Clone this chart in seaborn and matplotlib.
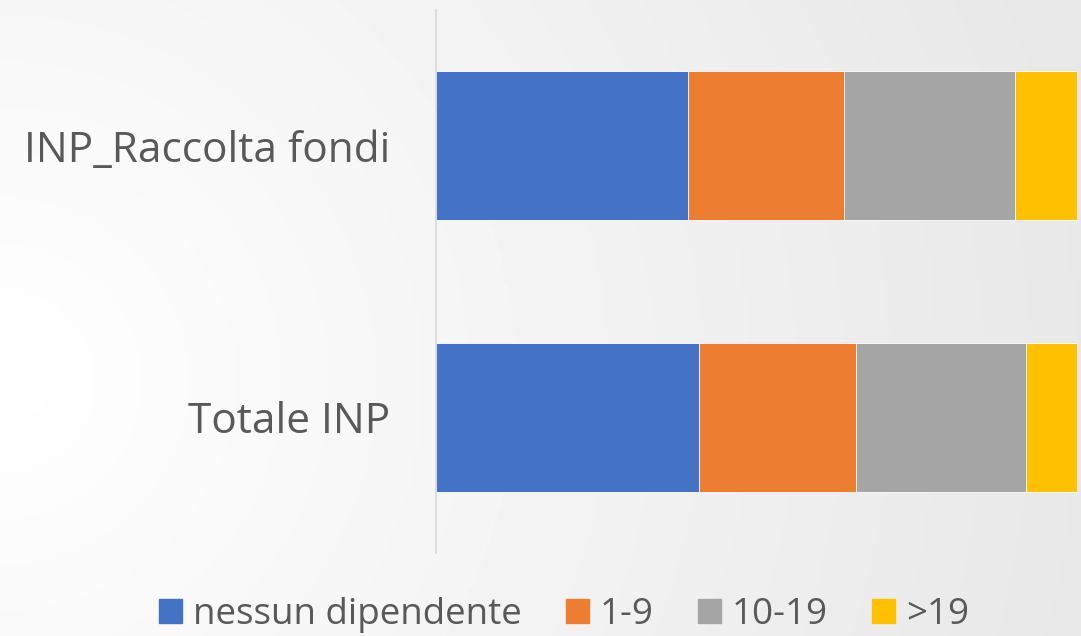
"""
Stacked 100% bar: dipendenti per classe, INP raccolta fondi vs totale.
"""
import numpy as np
import pandas as pd
import matplotlib
matplotlib.use("Agg")
import matplotlib.pyplot as plt
import seaborn as sns

categories = ["INP_Raccolta fondi", "Totale INP"]
classes = ["nessun dipendente", "1-9", "10-19", ">19"]
nessun = [39.3, 41.0]
da1a9 = [24.3, 24.6]
da10a19 = [26.7, 26.4]
oltre19 = [9.7, 8.0]
colors = ["#4472C4", "#ED7D31", "#A5A5A5", "#FFC000"]

sns.set_theme(style="white")
plt.rcParams["font.family"] = ["Open Sans", "DejaVu Sans"]
TEXT = "#595959"

df = pd.DataFrame({"cat": categories, classes[0]: nessun, classes[1]: da1a9,
                   classes[2]: da10a19, classes[3]: oltre19})
cum = df[classes].cumsum(axis=1)

fig = plt.figure(figsize=(10.81, 6.36), dpi=100)

# soft grey gradient background, like the slide
bg = fig.add_axes([0, 0, 1, 1], zorder=-10)
xx, yy = np.meshgrid(np.linspace(0, 1, 300), np.linspace(0, 1, 200))
r = np.sqrt((xx * 1.0) ** 2 + ((yy - 0.6) * 0.6) ** 2)
grad = 1.0 - 0.09 * np.clip(r, 0, 1)
bg.imshow(grad, cmap="gray", vmin=0, vmax=1, aspect="auto", extent=[0, 1, 0, 1])
bg.axis("off")

ax = fig.add_axes([0.4033, 0.1305, 0.5930, 0.8538])
ax.patch.set_alpha(0)

# draw from the full bar back to the first segment so each overlay shows one class
for cls, col in zip(reversed(classes), reversed(colors)):
    sns.barplot(data=cum, x=cls, y=df["cat"], orient="h", color=col,
                width=0.55, ax=ax, edgecolor="white", linewidth=0.6,
                saturation=1)

ax.set_xlim(0, 100)
ax.set_ylim(1.5, -0.5)
ax.set_xlabel("")
ax.set_ylabel("")
ax.set_xticks([])
ax.tick_params(axis="y", length=0, pad=33, labelsize=30.5, labelcolor=TEXT)
for s in ["top", "right", "bottom"]:
    ax.spines[s].set_visible(False)
ax.spines["left"].set_color("#D9D9D9")
ax.spines["left"].set_linewidth(1.2)

handles = [plt.Rectangle((0, 0), 1, 1, color=c) for c in colors]
fig.legend(handles, classes, loc="lower center", bbox_to_anchor=(0.522, -0.047),
           ncol=4, frameon=False, labelcolor=TEXT,
           handlelength=0.62, handleheight=0.62, handletextpad=0.3,
           columnspacing=1.2, prop={"size": 26.5})

fig.savefig("out.png", dpi=100)
